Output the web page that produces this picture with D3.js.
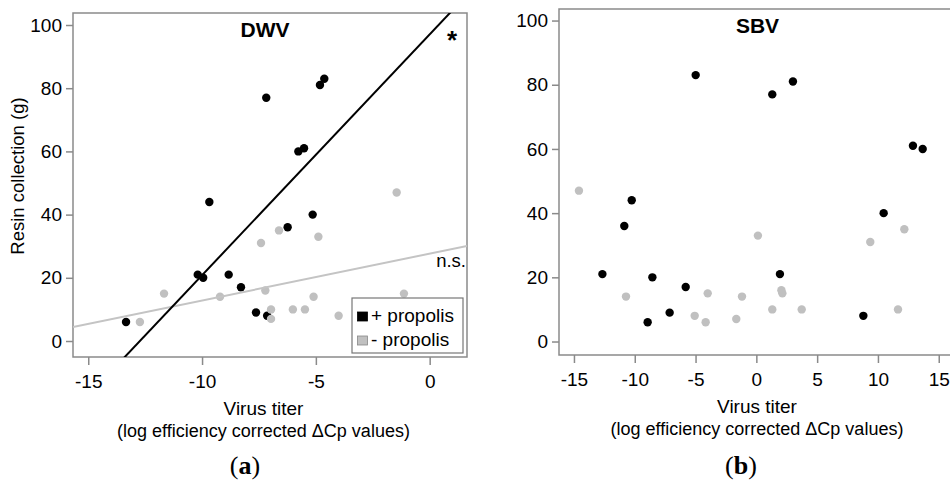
<!DOCTYPE html>
<html>
<head>
<meta charset="utf-8">
<script src="https://cdn.jsdelivr.net/npm/d3@7"></script>
<style>
  html, body { margin: 0; padding: 0; background: #fff; }
  svg { display: block; font-family: "Liberation Sans", Arial, sans-serif; }
</style>
</head>
<body>
<svg id="chart" width="950" height="482"></svg>
<script>
// Virus titer (log efficiency corrected ΔCp) vs. resin collection (g)
// DWV, colonies with propolis (+)
const dwvPlusTiter = [-13.34, -9.68, -10.19, -9.95, -8.83, -8.29, -7.63, -7.14, -7.18, -4.82, -4.63, -5.77, -5.52, -5.14, -6.24];
const dwvPlusResin = [6, 44, 21, 20, 21, 17, 9, 8, 77, 81, 83, 60, 61, 40, 36];
// DWV, colonies without propolis (-)
const dwvMinusTiter = [-12.73, -11.67, -9.21, -7.41, -7.22, -1.45, -6.62, -4.89, -5.10, -1.13, -6.97, -6.01, -5.48, -4.00, -6.97];
const dwvMinusResin = [6, 15, 14, 31, 16, 47, 35, 33, 14, 15, 10, 10, 10, 8, 7];
// SBV, colonies with propolis (+)
const sbvPlusTiter = [-4.99, 1.31, 3.01, 12.88, 13.68, 10.47, -10.25, -10.86, -12.66, -8.55, -5.81, -7.13, -8.94, 1.94, 8.80];
const sbvPlusResin = [83, 77, 81, 61, 60, 40, 44, 36, 21, 20, 17, 9, 6, 21, 8];
// SBV, colonies without propolis (-)
const sbvMinusTiter = [-14.59, -10.72, -4.00, -1.18, -5.07, -4.17, -1.65, 0.13, 9.37, 12.17, 11.65, 1.31, 2.06, 2.14, 3.73];
const sbvMinusResin = [47, 14, 15, 14, 8, 6, 7, 33, 31, 35, 10, 10, 16, 15, 10];

const yTicks = [0, 20, 40, 60, 80, 100];
const dwvXTicks = [-15, -10, -5, 0];
const sbvXTicks = [-15, -10, -5, 0, 5, 10, 15];
const legendLabels = ["+ propolis", "- propolis"];

const BLACK = "#000000";
const GREY = "#c0c0c0";
const FRAME = "#8a8a8a";

const svg = d3.select("#chart");

function zip(xs, ys) { return xs.map((x, i) => ({ x, y: ys[i] })); }

// ordinary least squares fit
function fit(pts) {
  const mx = d3.mean(pts, d => d.x), my = d3.mean(pts, d => d.y);
  const sxy = d3.sum(pts, d => (d.x - mx) * (d.y - my));
  const sxx = d3.sum(pts, d => (d.x - mx) ** 2);
  const b = sxy / sxx;
  return { b, a: my - b * mx };
}

function panel(opts) {
  const { id, xDomain, xRange, yDomain, yRange, xTicks, title, titleY, letter } = opts;
  const x = d3.scaleLinear().domain(xDomain).range(xRange);
  const y = d3.scaleLinear().domain(yDomain).range(yRange);
  const g = svg.append("g");
  const [x0, x1] = xRange, [y1, y0] = yRange;

  g.append("clipPath").attr("id", id + "-clip")
    .append("rect").attr("x", x0).attr("y", y0).attr("width", x1 - x0).attr("height", y1 - y0);

  // frame
  g.append("rect").attr("x", x0).attr("y", y0).attr("width", x1 - x0).attr("height", y1 - y0)
    .attr("fill", "none").attr("stroke", FRAME).attr("stroke-width", 1.5);

  // axes
  const ya = g.append("g").attr("transform", `translate(${x0},0)`)
    .call(d3.axisLeft(y).tickValues(yTicks).tickSize(7).tickPadding(4));
  const xa = g.append("g").attr("transform", `translate(0,${y1})`)
    .call(d3.axisBottom(x).tickValues(xTicks).tickSize(8).tickPadding(10).tickFormat(d3.format("d")));
  [ya, xa].forEach(a => {
    a.select(".domain").remove();
    a.selectAll(".tick line").attr("stroke", FRAME).attr("stroke-width", 1.5);
    a.selectAll(".tick text").attr("fill", "#000").style("font-size", "19px")
      .style("font-family", "'Liberation Sans', Arial, sans-serif");
  });
  xa.selectAll(".tick text").text(d => d < 0 ? "-" + Math.abs(d) : d);

  const cx = opts.titleCx;
  g.append("text").attr("x", cx).attr("y", y1 + 58).attr("text-anchor", "middle")
    .style("font-size", "19px").text("Virus titer");
  g.append("text").attr("x", cx).attr("y", y1 + 79.5).attr("text-anchor", "middle")
    .style("font-size", "18px").text("(log efficiency corrected \u0394Cp values)");

  const lt = g.append("text").attr("x", opts.letterCx).attr("y", 474).attr("text-anchor", "middle")
    .style("font-family", "'Liberation Serif', 'Times New Roman', serif").style("font-size", "26px");
  lt.append("tspan").text("(");
  lt.append("tspan").attr("font-weight", "bold").text(letter);
  lt.append("tspan").text(")");

  g.append("text").attr("x", opts.titleCenter).attr("y", titleY).attr("text-anchor", "middle")
    .style("font-size", "21px").style("font-weight", "bold").text(title);

  return { g, x, y, clip: `url(#${id}-clip)` };
}

// ---- (a) DWV ----
const A = panel({
  id: "dwv", xDomain: [-15.67, 1.64], xRange: [73, 467], yDomain: [-5.06, 103.8], yRange: [357, 13],
  xTicks: dwvXTicks, title: "DWV", titleY: 36.5, titleCenter: 265, letter: "a", letterCx: 245, titleCx: 263.5
});
const dwvPlus = zip(dwvPlusTiter, dwvPlusResin);
const dwvMinus = zip(dwvMinusTiter, dwvMinusResin);

A.g.append("g").selectAll("circle").data(dwvPlus).join("circle")
  .attr("cx", d => A.x(d.x)).attr("cy", d => A.y(d.y)).attr("r", 4.2).attr("fill", BLACK);
A.g.append("g").selectAll("circle").data(dwvMinus).join("circle")
  .attr("cx", d => A.x(d.x)).attr("cy", d => A.y(d.y)).attr("r", 4.2).attr("fill", GREY);

// regression lines, clipped to the plot frame
[[dwvMinus, "#c4c4c4"], [dwvPlus, BLACK]].forEach(([pts, col]) => {
  const { a, b } = fit(pts);
  const xs = A.x.domain();
  A.g.append("line").attr("clip-path", A.clip)
    .attr("x1", A.x(xs[0])).attr("y1", A.y(a + b * xs[0]))
    .attr("x2", A.x(xs[1])).attr("y2", A.y(a + b * xs[1]))
    .attr("stroke", col).attr("stroke-width", 2);
});

A.g.append("text").attr("x", 452).attr("y", 49).attr("text-anchor", "middle")
  .style("font-size", "26px").style("font-weight", "bold").text("*");
A.g.append("text").attr("x", 466).attr("y", 266.5).attr("text-anchor", "end")
  .style("font-size", "18.5px").text("n.s.");

// legend
const lg = A.g.append("g");
lg.append("rect").attr("x", 352).attr("y", 298).attr("width", 111).attr("height", 55)
  .attr("fill", "#fff").attr("stroke", "#777").attr("stroke-width", 1.2);
legendLabels.forEach((lab, i) => {
  const yy = 312 + i * 24;
  lg.append("rect").attr("x", 357.5).attr("y", yy).attr("width", 10).attr("height", 9)
    .attr("fill", i === 0 ? BLACK : GREY).attr("stroke", i === 0 ? BLACK : "#888").attr("stroke-width", 0.8);
  lg.append("text").attr("x", 371).attr("y", yy + 10).style("font-size", "19px").text(lab);
});

// y axis title (left panel only)
svg.append("text").attr("transform", "translate(23.5,176) rotate(-90)").attr("text-anchor", "middle")
  .style("font-size", "18.5px").text("Resin collection (g)");

// ---- (b) SBV ----
const B = panel({
  id: "sbv", xDomain: [-16.23, 17.16], xRange: [559, 965], yDomain: [-4.2, 103.6], yRange: [355, 9],
  xTicks: sbvXTicks, title: "SBV", titleY: 33, titleCenter: 757.5, letter: "b", letterCx: 741, titleCx: 757
});
B.g.append("g").selectAll("circle").data(zip(sbvPlusTiter, sbvPlusResin)).join("circle")
  .attr("cx", d => B.x(d.x)).attr("cy", d => B.y(d.y)).attr("r", 4.2).attr("fill", BLACK);
B.g.append("g").selectAll("circle").data(zip(sbvMinusTiter, sbvMinusResin)).join("circle")
  .attr("cx", d => B.x(d.x)).attr("cy", d => B.y(d.y)).attr("r", 4.2).attr("fill", GREY);
</script>
</body>
</html>
